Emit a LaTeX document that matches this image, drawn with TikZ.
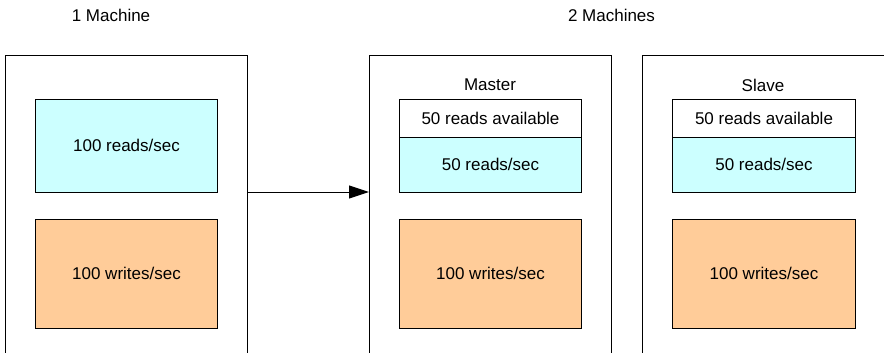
\documentclass[tikz,border=0pt]{standalone}
\usepackage{fontspec}
\setmainfont{Liberation Sans}
\usetikzlibrary{arrows.meta}
\definecolor{readcol}{HTML}{CCFFFF}
\definecolor{writecol}{HTML}{FFCC99}
\tikzset{
  lbl/.style={font=\fontsize{17}{19}\selectfont, inner sep=0pt},
  machine/.style={draw=black, line width=1pt, fill=white},
  box/.style={lbl, draw=black, line width=1pt, anchor=north west,
              text depth=1pt, minimum width=182pt},
  readbox/.style={box, fill=readcol},
  availbox/.style={box, fill=white},
  writebox/.style={box, fill=writecol},
}
\begin{document}
\begin{tikzpicture}[x=1pt, y=-1pt]
\useasboundingbox (0,0) rectangle (884,353);
\clip (0,0) rectangle (884,353);

% headings
\node[lbl] (h1) at (111,15) {1 Machine};
\node[lbl] (h2) at (611.5,15) {2 Machines};

% machine frames (they run past the lower and right edges)
\draw[machine] (5,56) rectangle (247,370);
\coordinate (m1e) at (247,192);
\draw[machine] (369,56) rectangle (611,370);
\coordinate (m2w) at (369,192);
\draw[machine] (642,56) rectangle (900,370);

% single machine
\node[readbox, minimum height=93pt] (r1) at (35,99) {100 reads/sec};
\node[writebox, minimum height=109pt] (w1) at (35,219) {100 writes/sec};

% master
\node[lbl] (mlab) at (490,85) {Master};
\node[availbox, minimum height=38pt] (a2) at (399,99) {50 reads available};
\node[readbox, minimum height=55pt] (r2) at (399,137) {50 reads/sec};
\node[writebox, minimum height=109pt] (w2) at (399,219) {100 writes/sec};

% slave
\node[lbl] (slab) at (763,85) {Slave};
\node[availbox, minimum width=183pt, minimum height=38pt] (a3) at (672,99) {50 reads available};
\node[readbox, minimum width=183pt, minimum height=55pt] (r3) at (672,137) {50 reads/sec};
\node[writebox, minimum width=183pt, minimum height=109pt] (w3) at (672,219) {100 writes/sec};

% scaling arrow
\draw[line width=1pt, -{Triangle[length=20pt, width=13pt]}] (m1e) -- (m2w);
\end{tikzpicture}
\end{document}
